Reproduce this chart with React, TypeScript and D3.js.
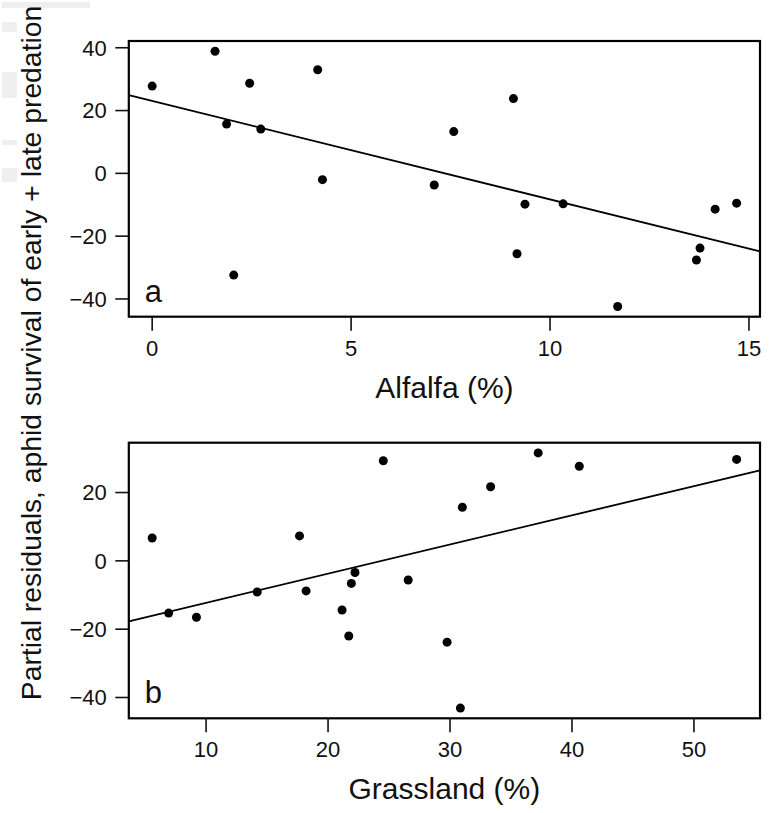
import React from "react";
import * as d3 from "d3";

// Panel a: alfalfa cover vs partial residuals
const alfalfaX = [0, 1.58, 2.45, 1.87, 2.73, 4.16, 4.28, 7.09, 2.05, 7.58, 9.08, 9.37, 10.33, 9.17, 11.7, 13.77, 13.68, 14.15, 14.69];
const alfalfaY = [27.8, 38.9, 28.7, 15.7, 14.1, 33.0, -2.0, -3.7, -32.4, 13.3, 23.8, -9.8, -9.7, -25.6, -42.4, -23.8, -27.6, -11.4, -9.5];
const alfalfaFit = { intercept: 23.05, slope: -3.135 };
const alfalfaXTicks = [0, 5, 10, 15];
const alfalfaYTicks = [-40, -20, 0, 20, 40];

// Panel b: grassland cover vs partial residuals
const grassX = [5.58, 6.93, 9.21, 14.19, 17.66, 18.2, 24.53, 21.15, 21.7, 21.91, 22.21, 26.57, 29.76, 30.85, 31.01, 33.33, 37.23, 40.6, 53.5];
const grassY = [6.7, -15.3, -16.5, -9.1, 7.3, -8.8, 29.3, -14.4, -22.0, -6.6, -3.4, -5.6, -23.8, -43.1, 15.7, 21.7, 31.6, 27.7, 29.7];
const grassFit = { intercept: -20.83, slope: 0.854 };
const grassXTicks = [10, 20, 30, 40, 50];
const grassYTicks = [-40, -20, 0, 20];

const yTitle = "Partial residuals, aphid survival of early + late predation";
const FONT = "'Liberation Sans', Arial, Helvetica, sans-serif";

const W = 769;
const H = 813;
const LEFT = 128.8;
const RIGHT = 760;

// R-style axis range: data extent padded by 4% on each side
function padded(values: number[]): [number, number] {
  const [lo, hi] = d3.extent(values) as [number, number];
  const p = (hi - lo) * 0.04;
  return [lo - p, hi + p];
}

const fmt = (v: number) => (v < 0 ? "\u2212" + Math.abs(v) : String(v));

type PanelProps = {
  xs: number[];
  ys: number[];
  fit: { intercept: number; slope: number };
  xTicks: number[];
  yTicks: number[];
  top: number;
  bottom: number;
  letter: string;
  xTitle: string;
};

function Panel({ xs, ys, fit, xTicks, yTicks, top, bottom, letter, xTitle }: PanelProps) {
  const xDom = padded(xs);
  const yDom = padded(ys);
  const x = d3.scaleLinear().domain(xDom).range([LEFT, RIGHT]);
  const y = d3.scaleLinear().domain(yDom).range([bottom, top]);
  const line = d3
    .line<number>()
    .x((d) => x(d))
    .y((d) => y(fit.intercept + fit.slope * d));
  return (
    <g>
      <path d={line(xDom) ?? ""} stroke="#000" strokeWidth={1.8} fill="none" />
      {xs.map((v, i) => (
        <circle key={i} cx={x(v)} cy={y(ys[i])} r={4.5} fill="#000" />
      ))}
      <rect x={LEFT} y={top} width={RIGHT - LEFT} height={bottom - top} fill="none" stroke="#000" strokeWidth={2.2} />
      {yTicks.map((t) => (
        <g key={"y" + t}>
          <line x1={LEFT - 13.5} x2={LEFT} y1={y(t)} y2={y(t)} stroke="#111" strokeWidth={1.6} />
          <text x={LEFT - 22} y={y(t)} dy="0.36em" textAnchor="end" fontSize={22} fontFamily={FONT} fill="#111">
            {fmt(t)}
          </text>
        </g>
      ))}
      {xTicks.map((t) => (
        <g key={"x" + t}>
          <line x1={x(t)} x2={x(t)} y1={bottom} y2={bottom + 14} stroke="#111" strokeWidth={1.6} />
          <text x={x(t)} y={bottom + 39} textAnchor="middle" fontSize={22} fontFamily={FONT} fill="#111">
            {fmt(t)}
          </text>
        </g>
      ))}
      <text x={LEFT + 16} y={bottom - 15} fontSize={31} fontFamily={FONT} fill="#111">
        {letter}
      </text>
      <text x={(LEFT + RIGHT) / 2} y={bottom + 81} textAnchor="middle" fontSize={30} fontFamily={FONT} fill="#111">
        {xTitle}
      </text>
    </g>
  );
}

export default function App() {
  return (
    <svg width={W} height={H} style={{ position: "absolute", left: 0, top: 0, background: "#fff" }}>
      <rect width={W} height={H} fill="#fff" />
      <g fill="#efefef">
        <rect x={2} y={2} width={88} height={6} />
        <rect x={2} y={22} width={15} height={10} />
        <rect x={2} y={72} width={15} height={26} />
        <rect x={2} y={140} width={15} height={5} />
        <rect x={2} y={168} width={15} height={14} />
      </g>
      <Panel
        xs={alfalfaX}
        ys={alfalfaY}
        fit={alfalfaFit}
        xTicks={alfalfaXTicks}
        yTicks={alfalfaYTicks}
        top={41}
        bottom={316.7}
        letter="a"
        xTitle="Alfalfa (%)"
      />
      <Panel
        xs={grassX}
        ys={grassY}
        fit={grassFit}
        xTicks={grassXTicks}
        yTicks={grassYTicks}
        top={442.7}
        bottom={718.3}
        letter="b"
        xTitle="Grassland (%)"
      />
      <text
        transform="translate(41,353) rotate(-90)"
        textAnchor="middle"
        fontSize={28.3}
        fontFamily={FONT}
        fill="#111"
      >
        {yTitle}
      </text>
    </svg>
  );
}
